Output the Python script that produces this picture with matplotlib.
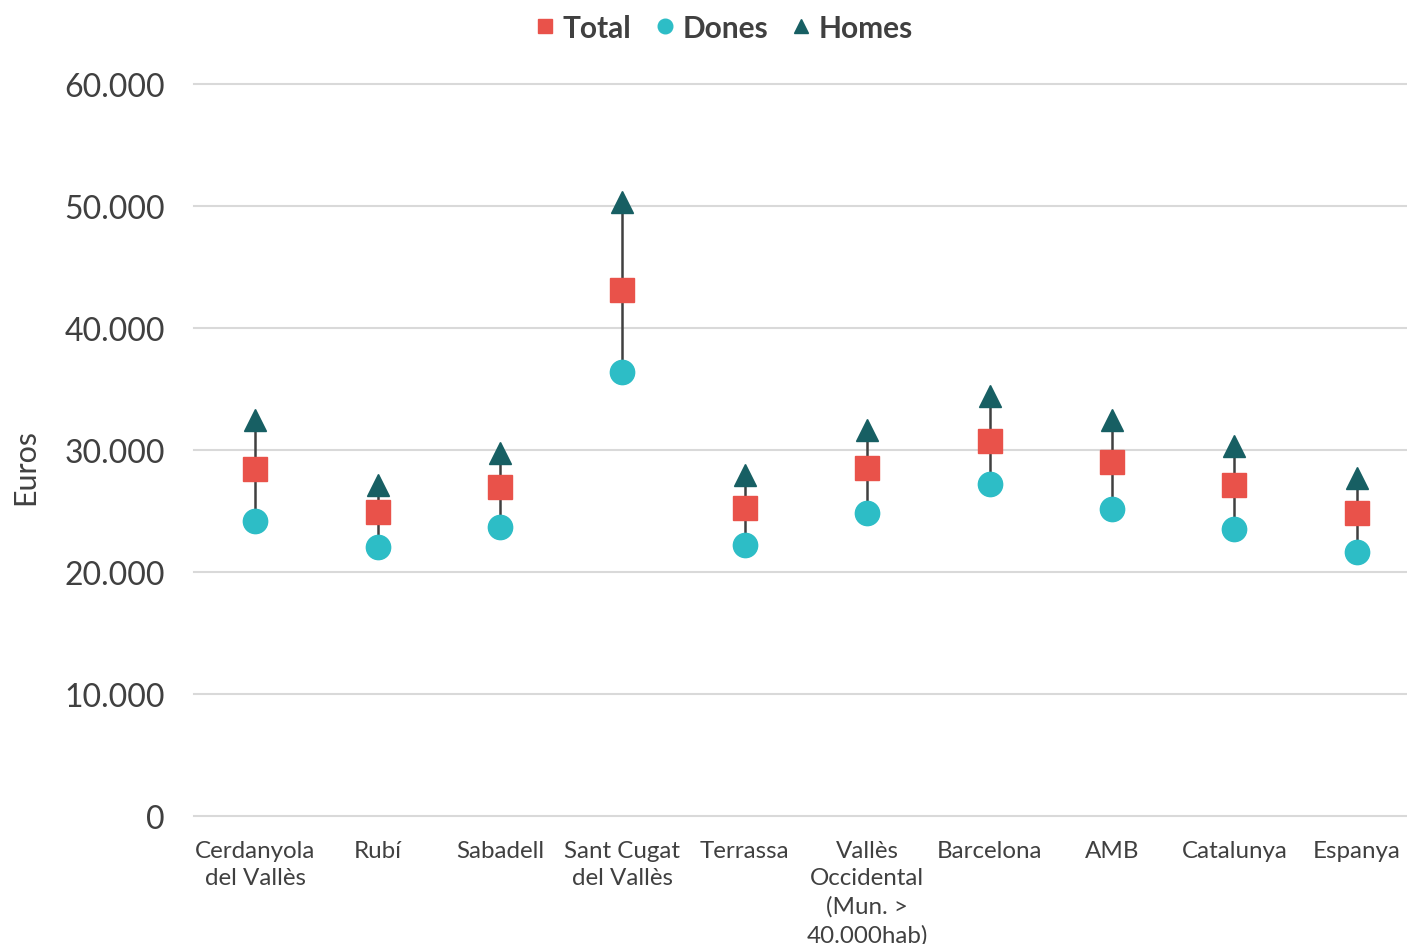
import numpy as np
import matplotlib
import matplotlib.pyplot as plt
from matplotlib.ticker import FuncFormatter
matplotlib.use('Agg')

plt.rcParams['font.family'] = ['Lato', 'DejaVu Sans']

# dades
categories = ['Cerdanyola\ndel Vallès', 'Rubí', 'Sabadell', 'Sant Cugat\ndel Vallès', 'Terrassa',
              'Vallès\nOccidental\n(Mun. >\n40.000hab)', 'Barcelona', 'AMB', 'Catalunya', 'Espanya']
total = [28450, 24900, 26950, 43100, 25250, 28500, 30700, 29000, 27100, 24800]
dones = [24200, 22050, 23700, 36400, 22200, 24800, 27200, 25200, 23500, 21600]
homes = [32500, 27150, 29750, 50300, 27950, 31600, 34400, 32500, 30300, 27700]

text_color = '#404040'
c_total = '#E9524A'
c_dones = '#2DBDC6'
c_homes = '#175F63'

fig = plt.figure(figsize=(14.07, 9.45), dpi=100)
# l'area de dibuix sobresurt una mica per la dreta
ax = fig.add_axes([194 / 1407, 1 - 817 / 945, (1418 - 194) / 1407, (817 - 85) / 945])

x = np.arange(len(categories))

# linies max-min
ax.vlines(x, dones, homes, color=text_color, lw=1.8, zorder=2)

ax.plot(x, total, 's', color=c_total, ms=17.5, label='Total', zorder=3)
ax.plot(x, dones, 'o', color=c_dones, ms=17.5, label='Dones', zorder=3)
ax.plot(x, homes, '^', color=c_homes, ms=16.5, label='Homes', zorder=3)

ax.set_xlim(-0.5, len(categories) - 0.5)
ax.set_ylim(0, 60000)
ax.set_yticks(np.arange(0, 60001, 10000))
ax.yaxis.set_major_formatter(FuncFormatter(lambda v, p: f'{int(v):,}'.replace(',', '.')))
ax.grid(axis='y', color='#D9D9D9', lw=1.5, clip_on=False)
ax.set_axisbelow(True)
for s in ax.spines.values():
    s.set_visible(False)
ax.tick_params(length=0)
ax.tick_params(axis='y', labelsize=23, labelcolor=text_color, pad=21)
ax.set_xticks(x)
ax.set_xticklabels(categories, fontsize=17.4, color=text_color, linespacing=1.4)
ax.tick_params(axis='x', pad=17)

fig.text(25 / 1407, 1 - 467 / 945, 'Euros', rotation=90, ha='center', va='center',
         fontsize=22, color=text_color)

leg = fig.legend(loc='upper center', bbox_to_anchor=(0.515, 1.013), ncol=3, frameon=False,
                 handlelength=0.6, handletextpad=0.3, columnspacing=0.8, markerscale=0.6,
                 prop={'weight': 'bold', 'size': 21.5})
for t in leg.get_texts():
    t.set_color(text_color)

fig.savefig('out.png', dpi=100)
